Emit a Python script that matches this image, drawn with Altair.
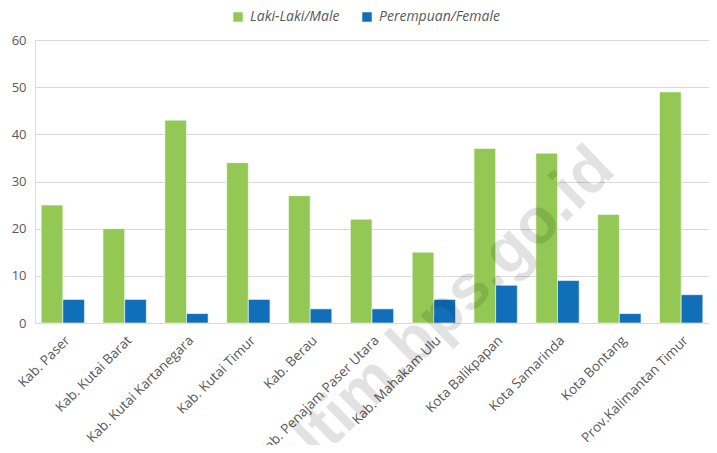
import altair as alt
import pandas as pd

categories = ["Kab. Paser", "Kab. Kutai Barat", "Kab. Kutai Kartanegara", "Kab. Kutai Timur",
              "Kab. Berau", "Kab. Penajam Paser Utara", "Kab. Mahakam Ulu", "Kota Balikpapan",
              "Kota Samarinda", "Kota Bontang", "Prov.Kalimantan Timur"]
male = [25, 20, 43, 34, 27, 22, 15, 37, 36, 23, 49]
female = [5, 5, 2, 5, 3, 3, 5, 8, 9, 2, 6]
series = ["Laki-Laki/Male", "Perempuan/Female"]
colors = ["#92C853", "#116FBA"]
watermark = "kaltim.bps.go.id"

rows = []
for c, m, f in zip(categories, male, female):
    rows.append({"cat": c, "series": series[0], "value": m})
    rows.append({"cat": c, "series": series[1], "value": f})
df = pd.DataFrame(rows)

W, H = 674, 283

bars = alt.Chart(df).mark_bar(stroke="white", strokeWidth=0.8, strokeOpacity=0.7).encode(
    x=alt.X("cat:N", sort=categories, title=None,
            scale=alt.Scale(paddingInner=0.3, paddingOuter=0.1),
            axis=alt.Axis(labelAngle=-45, labelAlign="right", labelBaseline="top",
                          ticks=False, domainColor="#D9D9D9", labelColor="#595959",
                          labelFont="Open Sans", labelFontSize=13.5, labelPadding=10,
                          labelLimit=300)),
    xOffset=alt.XOffset("series:N", sort=series),
    y=alt.Y("value:Q", title=None,
            scale=alt.Scale(domain=[0, 60]),
            axis=alt.Axis(values=[0, 10, 20, 30, 40, 50, 60], domain=False, ticks=False,
                          gridColor="#D9D9D9", labelColor="#595959", labelFont="Open Sans",
                          labelFontSize=13, labelPadding=9)),
    color=alt.Color("series:N", sort=series,
                    scale=alt.Scale(domain=series, range=colors),
                    legend=alt.Legend(title=None, orient="none", direction="horizontal",
                                      legendX=196, legendY=-30, symbolType="square",
                                      symbolSize=90, symbolStrokeWidth=0,
                                      labelFont="Open Sans", labelFontStyle="italic",
                                      labelFontSize=14, labelColor="#595959",
                                      columnPadding=20, labelOffset=5)),
)

wm = alt.Chart(pd.DataFrame({"t": [watermark]})).mark_text(
    font="Liberation Sans", fontWeight="bold", fontSize=64, angle=316,
    color="#000000", opacity=0.11, align="center", baseline="middle"
).encode(x=alt.value(394), y=alt.value(288), text="t:N")

chart = alt.layer(bars, wm).properties(
    width=W, height=H,
    autosize=alt.AutoSizeParams(type="none"),
    padding={"left": 27, "top": 32, "right": 0, "bottom": 122},
).configure_view(stroke=None).configure(background="white")

chart.save("out.html", embed_options={"renderer": "svg", "actions": False})
